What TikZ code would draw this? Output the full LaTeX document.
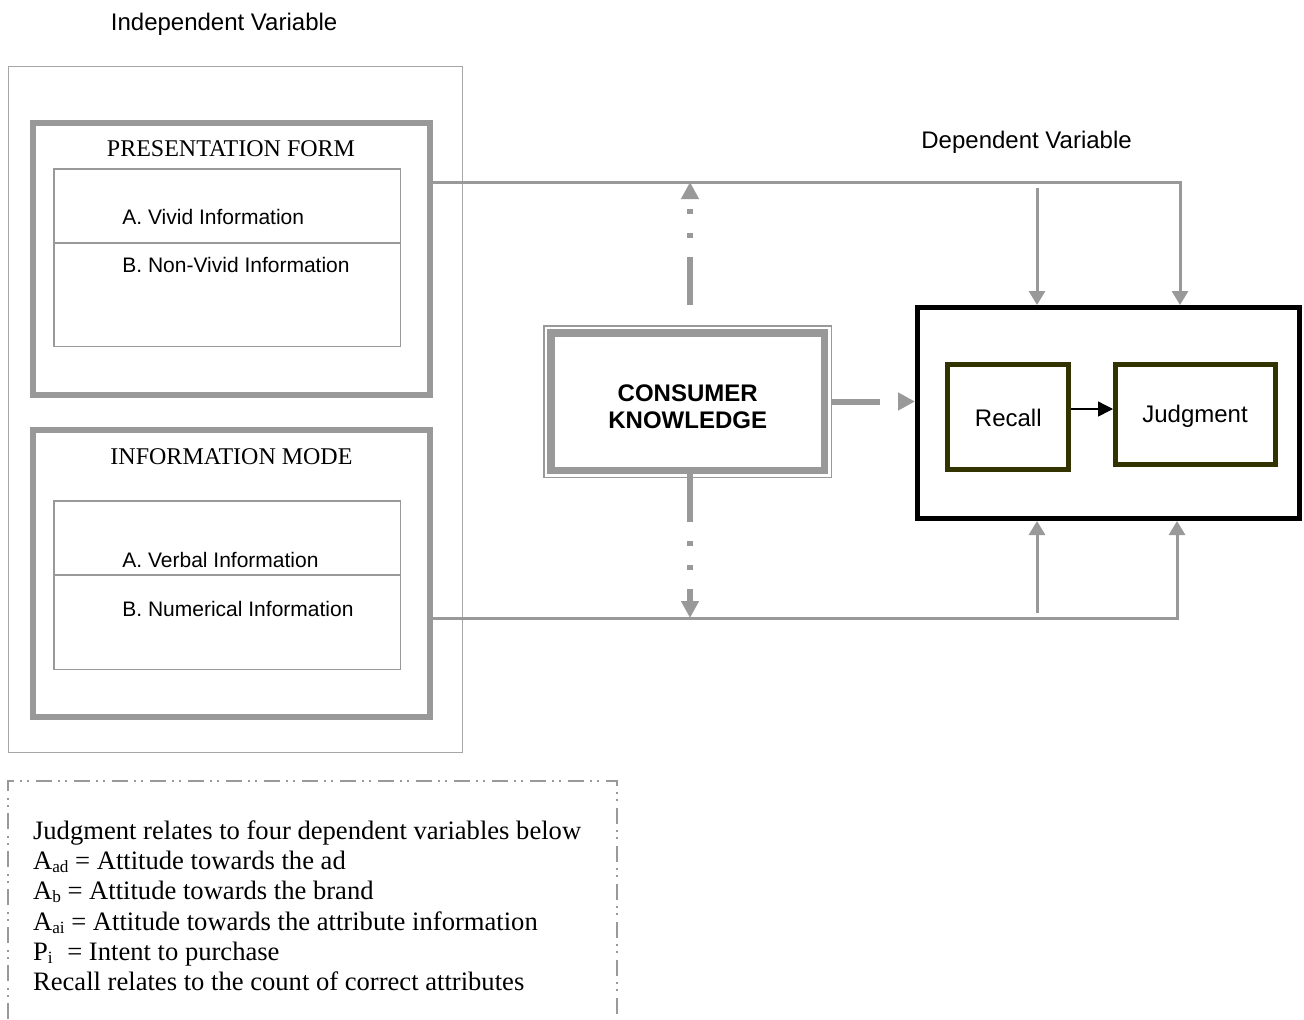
\documentclass[tikz,border=0pt]{standalone}
\usepackage{fontspec}
\setmainfont{Liberation Serif}
\setsansfont{Liberation Sans}
\usetikzlibrary{arrows.meta,fit}
\definecolor{boxgray}{HTML}{999999}
\definecolor{framegray}{HTML}{A6A6A6}
\definecolor{darkolive}{HTML}{333300}
% small, slightly lowered index as used in the notes
\newcommand{\lowidx}[1]{\raisebox{-0.12em}{\fontsize{8.6}{10}\selectfont #1}}

\begin{document}
\begin{tikzpicture}[x=0.5pt,y=-0.5pt,
  thinframe/.style={draw=framegray,line width=0.75pt,inner sep=0pt},
  thinbox/.style={draw=boxgray,line width=0.75pt,inner sep=0pt},
  thickbox/.style={draw=boxgray,line width=3pt,inner sep=0pt},
  ckbox/.style={draw=boxgray,line width=3.75pt,inner sep=0pt},
  dvbox/.style={draw=black,line width=2.5pt,inner sep=0pt},
  subbox/.style={draw=darkolive,line width=2.5pt,inner sep=0pt},
  sanslabel/.style={font=\sffamily\fontsize{12}{14}\selectfont,inner sep=0pt},
  itemlabel/.style={font=\sffamily\fontsize{10.5}{12.5}\selectfont,inner sep=0pt,anchor=base west},
  seriflabel/.style={font=\rmfamily\fontsize{12}{14}\selectfont,inner sep=0pt,anchor=base},
  feed/.style={draw=boxgray,line width=1.5pt,-{Triangle[width=8pt,length=7pt]}},
  modline/.style={draw=boxgray,line width=3pt},
  modtipend/.style={-{Triangle[width=8.5pt,length=8.5pt]}},
  modtipstart/.style={{Triangle[width=8.5pt,length=8.5pt]}-},
  link/.style={draw=black,line width=0.7pt,-{Triangle[width=7.5pt,length=7.5pt]}},
  divider/.style={draw=boxgray,line width=0.75pt},
  notes/.style={draw=boxgray,line width=0.6pt,dash pattern=on 8pt off 3pt on 1pt off 2.5pt on 1pt off 3.5pt}
]
\path[use as bounding box, fill=white] (0,0) rectangle (1304,1019);

% independent variable panel
\node[thinframe, fit={(8.25,66.25)(462.25,752.25)}] (indep) {};
\node[thickbox, fit={(33,123)(430,395)}] (pf) {};
\node[thinbox, fit={(53.75,168.75)(400.25,346.25)}] (pfitems) {};
\node[thickbox, fit={(33,430)(430,717)}] (im) {};
\node[thinbox, fit={(53.75,500.75)(400.25,669.25)}] (imitems) {};
\coordinate (pfcut) at (0,243);
\coordinate (imcut) at (0,575);
\draw[divider] (pfitems.west |- pfcut) -- (pfitems.east |- pfcut);
\draw[divider] (imitems.west |- imcut) -- (imitems.east |- imcut);

% moderator
\node[thinbox, fit={(543.75,325.75)(831.25,477.25)}] (ckframe) {};
\node[ckbox, fit={(550.75,332.75)(824.25,470.25)}] (ck) {};

% dependent variable panel
\node[dvbox, fit={(917.5,307.5)(1299.5,518.5)}] (dv) {};
\node[subbox, fit={(947.5,364.5)(1068.5,469.5)}] (recall) {};
\node[subbox, fit={(1115.5,364.5)(1275.5,464.5)}] (judg) {};

% labels
\node[sanslabel, anchor=base west] (ivlabel) at (110.5,30.7) {Independent Variable};
\node[seriflabel] (pflabel) at (231,156.7) {PRESENTATION FORM};
\node[itemlabel] (vivid) at (122,224) {A. Vivid Information};
\node[itemlabel] (nonvivid) at (122,272.7) {B. Non-Vivid Information};
\node[seriflabel] (imlabel) at (231.5,464) {INFORMATION MODE};
\node[itemlabel] (verbal) at (122,567.7) {A. Verbal Information};
\node[itemlabel] (numerical) at (122,616.7) {B. Numerical Information};
\node[sanslabel, font=\sffamily\bfseries\fontsize{12}{13.5}\selectfont, align=center, anchor=north] (cklabel) at (687.7,384.8) {CONSUMER\\KNOWLEDGE};
\node[sanslabel, anchor=base west] (dvlabel) at (921,148.3) {Dependent Variable};
\node[sanslabel, anchor=base] (recalllabel) at (1008.3,426.7) {Recall};
\node[sanslabel, anchor=base] (judglabel) at (1195,422.7) {Judgment};

% connectors
\coordinate (toprail) at (1180,182);
\coordinate (topdrop) at (1037,188);
\coordinate (botrail) at (1177,618);
\coordinate (botrise) at (1037,613);
\coordinate (ckaxis) at (690,0);
\coordinate (linky) at (0,409);

\draw[feed] (pf.east |- toprail) -- (toprail) -- (toprail |- dv.north);
\draw[feed] (topdrop) -- (topdrop |- dv.north);
\draw[feed] (im.east |- botrail) -- (botrail) -- (botrail |- dv.south);
\draw[feed] (botrise) -- (botrise |- dv.south);

\draw[modline, modtipstart, dash pattern=on 0pt off 5.5pt on 2.5pt off 9.5pt on 2.5pt off 9.5pt on 24pt off 20pt]
  (ckaxis |- toprail) -- (ckaxis |- ckframe.north);
\draw[modline, modtipend, dash pattern=on 24pt off 9.5pt on 2.5pt off 9.5pt on 2.5pt off 9.5pt]
  (ckaxis |- ck.south) -- (ckaxis |- botrail);
\draw[modline, modtipend, dash pattern=on 24pt off 9.5pt on 2.5pt off 9.5pt on 2.5pt off 9.5pt]
  (ckframe.east) -- (dv.west |- ckframe.east);

\draw[link] (recall.east |- linky) -- (judg.west |- linky);

% notes
\draw[notes] (8,1019) |- (617,781) -- (617,1019);
\node[font=\rmfamily\fontsize{13.3}{15.15}\selectfont, align=left, anchor=north west, inner sep=0pt] (notestext) at (32.7,820) {Judgment relates to four dependent variables below\\
A\lowidx{ad} = Attitude towards the ad\\
A\lowidx{b} = Attitude towards the brand\\
A\lowidx{ai} = Attitude towards the attribute information\\
P\lowidx{i}\hspace{0.55em}= Intent to purchase\\
Recall relates to the count of correct attributes};
\end{tikzpicture}
\end{document}
